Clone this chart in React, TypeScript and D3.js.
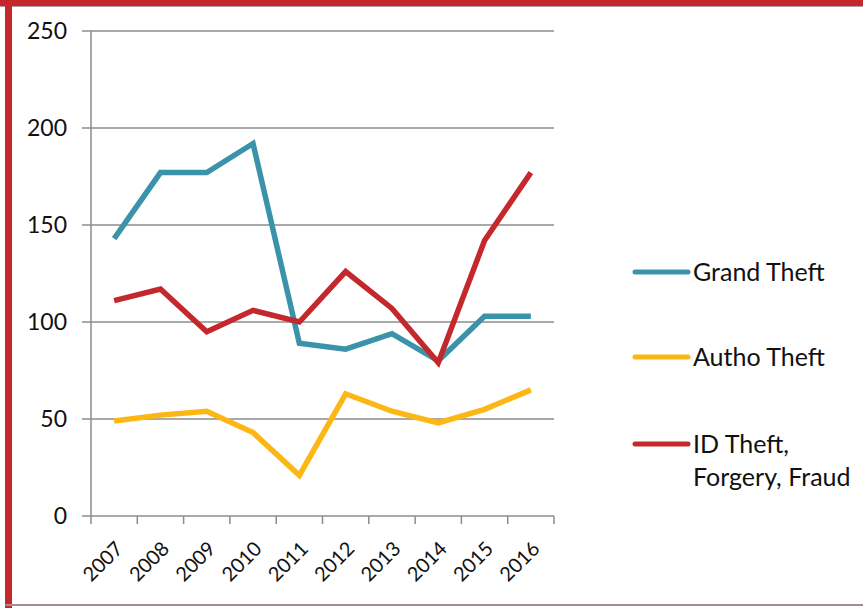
import React from "react";
import * as d3 from "d3";

const years = ["2007", "2008", "2009", "2010", "2011", "2012", "2013", "2014", "2015", "2016"];
const grandTheft = [143, 177, 177, 192, 89, 86, 94, 80, 103, 103];
const authoTheft = [49, 52, 54, 43, 21, 63, 54, 48, 55, 65];
const idTheft = [111, 117, 95, 106, 100, 126, 107, 79, 142, 177];
const yTicks = [0, 50, 100, 150, 200, 250];

const seriesNames = ["Grand Theft", "Autho Theft", "ID Theft,|Forgery, Fraud"];
const seriesColors = ["#3A93A8", "#FDB714", "#C4282D"];

const App = () => {
  const width = 863, height = 608;
  const margin = { top: 31, left: 91, right: 309, bottom: 92 };

  const x = d3.scaleBand().domain(years).range([margin.left, width - margin.right]);
  const y = d3.scaleLinear().domain([0, 250]).range([height - margin.bottom, margin.top]);

  const line = d3.line<number>()
    .x((d, i) => x(years[i])! + x.bandwidth() / 2)
    .y((d) => y(d));

  const all = [grandTheft, authoTheft, idTheft];
  const font = "Lato, 'DejaVu Sans', sans-serif";
  const legendY = [272, 357, 444];

  return (
    <svg width={width} height={height} style={{ position: "absolute", left: 0, top: 0, background: "#fff" }}>
      {/* frame */}
      <rect x={0} y={0} width={width} height={6} fill="#C4282D" />
      <rect x={0} y={6} width={width} height={1} fill="#b0a0a0" />
      <rect x={5} y={0} width={7} height={height} fill="#C4282D" />
      <rect x={5} y={604} width={width} height={2} fill="#a98a8a" />

      {/* grid + y labels */}
      {yTicks.map((t) => (
        <g key={t}>
          <line x1={margin.left - 9} x2={width - margin.right} y1={y(t)} y2={y(t)} stroke="#8c8c8c" strokeWidth={1.5} />
          <text x={67} y={y(t)} dy="0.35em" textAnchor="end" fontFamily={font} fontSize={23} fill="#111">{t}</text>
        </g>
      ))}
      <line x1={margin.left} x2={margin.left} y1={y(250)} y2={y(0)} stroke="#8c8c8c" strokeWidth={1.5} />

      {/* x ticks + labels */}
      {years.concat(["end"]).map((yr, i) => {
        const px = margin.left + i * x.step();
        return <line key={"t" + i} x1={px} x2={px} y1={y(0)} y2={y(0) + 8} stroke="#8c8c8c" strokeWidth={1.5} />;
      })}
      {years.map((yr) => {
        const cx = x(yr)! + x.bandwidth() / 2 + 10;
        const cy = y(0) + 34;
        return (
          <text key={yr} transform={`translate(${cx},${cy}) rotate(-45)`} textAnchor="end" fontFamily={font} fontSize={20} fill="#111">{yr}</text>
        );
      })}

      {/* lines */}
      {all.map((s, i) => (
        <path key={i} d={line(s)!} fill="none" stroke={seriesColors[i]} strokeWidth={5.5} strokeLinejoin="miter" />
      ))}

      {/* legend */}
      {seriesNames.map((n, i) => (
        <g key={n}>
          <line x1={635} x2={688} y1={legendY[i]} y2={legendY[i]} stroke={seriesColors[i]} strokeWidth={5} strokeLinecap="round" />
          {n.split("|").map((part, j) => (
            <text key={j} x={693} y={legendY[i] + j * 33} dy="0.35em" fontFamily={font} fontSize={25} fill="#111">{part}</text>
          ))}
        </g>
      ))}
    </svg>
  );
};

export default App;
